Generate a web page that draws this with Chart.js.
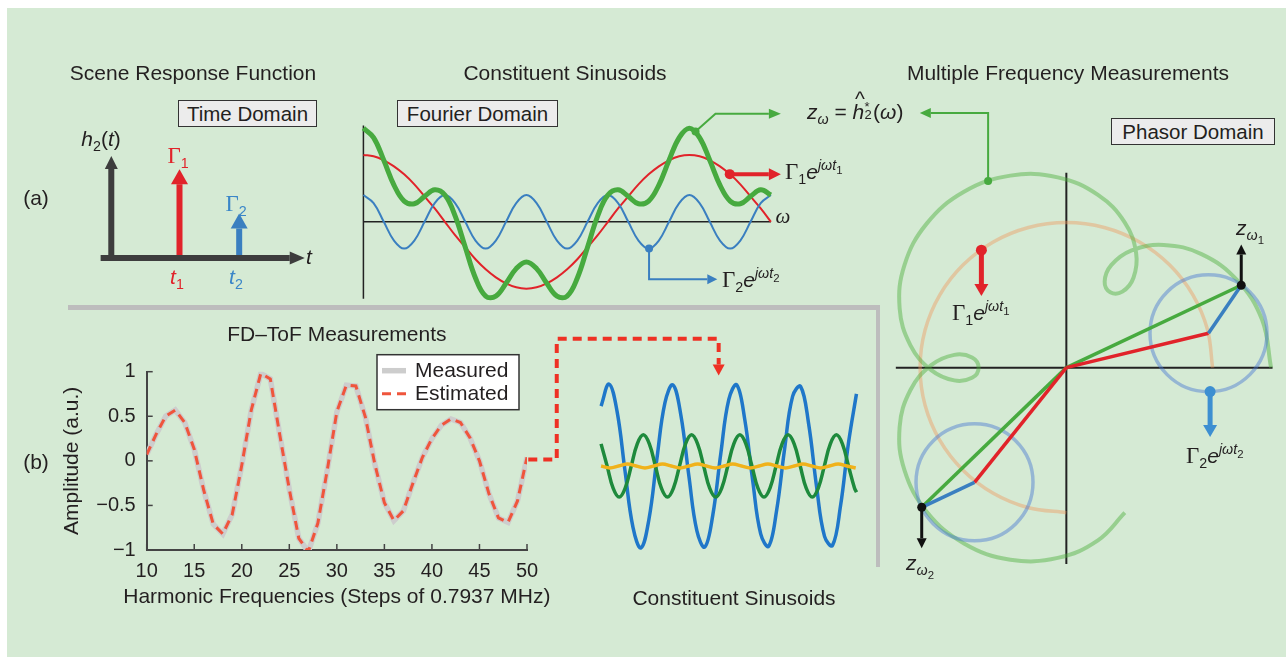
<!DOCTYPE html>
<html>
<head>
<meta charset="utf-8">
<script src="https://cdn.jsdelivr.net/npm/chart.js@4.4.1/dist/chart.umd.min.js"></script>
<style>
body { margin: 0; width: 1286px; height: 657px; position: relative; overflow: hidden; background: #fff;
       font-family: "Liberation Sans", Arial, Helvetica, sans-serif; color: #231f20; }
#bg { position: absolute; left: 7px; top: 8px; right: 0; bottom: 0; background: #d5ead4; }
canvas { position: absolute; }
.lbl { position: absolute; white-space: nowrap; font-size: 21px; line-height: 1; transform: translate(-50%, -50%); }
.lft { transform: translate(0, -50%); }
.box { position: absolute; box-sizing: border-box; background: #ececec; border: 1.5px solid #333; font-size: 20.5px;
       display: flex; align-items: center; justify-content: center; }
.g { font-family: "Liberation Serif", "DejaVu Serif", serif; font-size: 23px; }
.i { font-style: italic; }
.sb { font-size: 0.68em; position: relative; top: 0.35em; font-family: "Liberation Sans", Arial, sans-serif; }
.sp { font-size: 0.68em; position: relative; top: -0.6em; }
.sp .sb { font-size: 0.8em; top: 0.3em; }
.rule { position: absolute; background: #bdbdbd; }
.stk { display: inline-block; position: relative; width: 0.42em; height: 1em; vertical-align: top; }
.stk span { position: absolute; left: 0.02em; font-size: 0.62em; line-height: 1; }
</style>
</head>
<body>
<div id="bg"></div>
<div class="rule" style="left:68px;top:305px;width:812px;height:5px"></div>
<div class="rule" style="left:876px;top:305px;width:4px;height:262px"></div>

<canvas id="fdtof" width="570" height="302" style="left:0;top:318px"></canvas>
<canvas id="sketch" width="1286" height="657" style="left:0;top:0"></canvas>

<div class="lbl" style="left:193px;top:72px">Scene Response Function</div>
<div class="lbl" style="left:565px;top:72px">Constituent Sinusoids</div>
<div class="lbl" style="left:1068px;top:72px">Multiple Frequency Measurements</div>
<div class="box" style="left:178px;top:100px;width:139px;height:27px">Time Domain</div>
<div class="box" style="left:397px;top:100px;width:161px;height:27px">Fourier Domain</div>
<div class="box" style="left:1111px;top:118px;width:164px;height:27px">Phasor Domain</div>
<div class="lbl" style="left:36px;top:197px">(a)</div>
<div class="lbl" style="left:36px;top:461px">(b)</div>

<div class="lbl" style="left:101px;top:138px"><span class="i">h</span><span class="sb">2</span>(<span class="i">t</span>)</div>
<div class="lbl" style="left:178px;top:155px;color:#e1232a"><span class="g">Γ</span><span class="sb">1</span></div>
<div class="lbl" style="left:236px;top:203px;color:#3a86c8"><span class="g">Γ</span><span class="sb">2</span></div>
<div class="lbl i" style="left:177px;top:276px;color:#e1232a">t<span class="sb" style="font-style:normal">1</span></div>
<div class="lbl i" style="left:236px;top:276px;color:#3a86c8">t<span class="sb" style="font-style:normal">2</span></div>
<div class="lbl i" style="left:309px;top:256px">t</div>

<div class="lbl g i" style="left:783px;top:216px;font-size:21px">ω</div>
<div class="lbl lft" style="left:785px;top:171px"><span class="g">Γ</span><span class="sb">1</span><span class="i">e</span><span class="sp i">jω<span>t</span><span class="sb" style="font-style:normal">1</span></span></div>
<div class="lbl lft" style="left:722px;top:279px"><span class="g">Γ</span><span class="sb">2</span><span class="i">e</span><span class="sp i">jω<span>t</span><span class="sb" style="font-style:normal">2</span></span></div>
<div class="lbl lft" style="left:807px;top:111px"><span class="i">z</span><span class="sb i">ω</span> = <span style="position:relative;display:inline-block"><span class="i">h</span><span style="position:absolute;left:0.12em;top:-0.62em">^</span></span><span class="stk"><span style="top:-0.05em">*</span><span style="top:0.5em">2</span></span>(<span class="i">ω</span>)</div>

<div class="lbl lft" style="left:1236px;top:227px"><span class="i">z</span><span class="sb i">ω<span class="sb" style="font-style:normal;font-size:0.8em">1</span></span></div>
<div class="lbl lft" style="left:906px;top:562px"><span class="i">z</span><span class="sb i">ω<span class="sb" style="font-style:normal;font-size:0.8em">2</span></span></div>
<div class="lbl lft" style="left:952px;top:312px"><span class="g">Γ</span><span class="sb">1</span><span class="i">e</span><span class="sp i">jω<span>t</span><span class="sb" style="font-style:normal">1</span></span></div>
<div class="lbl lft" style="left:1186px;top:455px"><span class="g">Γ</span><span class="sb">2</span><span class="i">e</span><span class="sp i">jω<span>t</span><span class="sb" style="font-style:normal">2</span></span></div>

<div class="lbl" style="left:734px;top:597px">Constituent Sinusoids</div>

<script>
// FD-ToF measurements, panel (b)
const harmonics = [10, 11, 12, 13, 14, 15, 16, 17, 18, 19, 20, 21, 22, 23, 24, 25, 26, 27, 28, 29, 30,
                   31, 32, 33, 34, 35, 36, 37, 38, 39, 40, 41, 42, 43, 44, 45, 46, 47, 48, 49, 50];
const measured = [0.07, 0.30, 0.50, 0.57, 0.43, 0.13, -0.33, -0.71, -0.82, -0.60, -0.05, 0.57, 0.98, 0.92,
                  0.29, -0.32, -0.87, -1.02, -0.70, -0.10, 0.55, 0.85, 0.84, 0.49, -0.04, -0.47, -0.67,
                  -0.56, -0.25, 0.04, 0.25, 0.40, 0.47, 0.43, 0.26, 0.00, -0.37, -0.64, -0.69, -0.45, 0.04];
const estimated = [0.07, 0.30, 0.50, 0.57, 0.43, 0.13, -0.33, -0.71, -0.82, -0.60, -0.05, 0.57, 0.98, 0.92,
                   0.29, -0.32, -0.87, -1.02, -0.70, -0.10, 0.55, 0.85, 0.84, 0.49, -0.04, -0.47, -0.67,
                   -0.56, -0.25, 0.04, 0.25, 0.40, 0.47, 0.43, 0.26, 0.00, -0.37, -0.64, -0.69, -0.45, 0.04];
const yTickLabels = ['−1', '−0.5', '0', '0.5', '1'];
const xTitle = 'Harmonic Frequencies (Steps of 0.7937 MHz)';

// scene response function, panel (a) left
const stemTimes = [0.8, 1.5];
const stemAmps = [1, 0.4];

// Fourier domain sinusoids
const fourierOmega = [0, 2.5, 5, 7.5, 10, 12.5, 15, 17.5, 20, 22.5, 25, 27.5, 30, 32.5, 35, 37.5, 40, 42.5, 45, 47.5,
                      50, 52.5, 55, 57.5, 60, 62.5, 65, 67.5, 70, 72.5, 75, 77.5, 80, 82.5, 85, 87.5, 90, 92.5, 95, 97.5, 100];
const fourierRed = [1, 0.98, 0.92, 0.83, 0.71, 0.56, 0.38, 0.2, 0, -0.2, -0.38, -0.56, -0.71, -0.83, -0.92, -0.98, -1,
                    -0.98, -0.92, -0.83, -0.71, -0.56, -0.38, -0.2, 0, 0.2, 0.38, 0.56, 0.71, 0.83, 0.92, 0.98, 1,
                    0.98, 0.92, 0.83, 0.71, 0.56, 0.38, 0.2, 0];
const fourierBlue = [0.4, 0.28, 0, -0.28, -0.4, -0.28, 0, 0.28, 0.4, 0.28, 0, -0.28, -0.4, -0.28, 0, 0.28, 0.4,
                     0.28, 0, -0.28, -0.4, -0.28, 0, 0.28, 0.4, 0.28, 0, -0.28, -0.4, -0.28, 0, 0.28, 0.4,
                     0.28, 0, -0.28, -0.4, -0.28, 0, 0.28, 0.4];
const fourierGreen = [1.4, 1.26, 0.92, 0.55, 0.31, 0.27, 0.38, 0.48, 0.4, 0.09, -0.38, -0.84, -1.11, -1.11, -0.92,
                      -0.7, -0.6, -0.7, -0.92, -1.11, -1.11, -0.84, -0.38, 0.09, 0.4, 0.48, 0.38, 0.27, 0.31, 0.55,
                      0.92, 1.26, 1.4, 1.26, 0.92, 0.55, 0.31, 0.27, 0.38, 0.48, 0.4];

// phasor domain
const orangeArc = [[1, 0], [0.966, 0.259], [0.866, 0.5], [0.707, 0.707], [0.5, 0.866], [0.259, 0.966], [0, 1],
                   [-0.259, 0.966], [-0.5, 0.866], [-0.707, 0.707], [-0.866, 0.5], [-0.966, 0.259], [-1, 0],
                   [-0.966, -0.259], [-0.866, -0.5], [-0.707, -0.707], [-0.5, -0.866], [-0.259, -0.966], [0, -1]];
const greenLocus = [[1.4, 0], [1.338, 0.331], [1.166, 0.605], [0.924, 0.783], [0.666, 0.846], [0.447, 0.809],
                    [0.307, 0.707], [0.262, 0.593], [0.3, 0.52], [0.383, 0.524], [0.459, 0.62], [0.477, 0.791],
                    [0.4, 1], [0.216, 1.191], [-0.059, 1.312], [-0.383, 1.324], [-0.7, 1.212], [-0.955, 0.993],
                    [-1.107, 0.707], [-1.14, 0.409], [-1.066, 0.154], [-0.924, -0.017], [-0.766, -0.088],
                    [-0.645, -0.07], [-0.6, 0], [-0.645, 0.07], [-0.766, 0.088], [-0.924, 0.017], [-1.066, -0.154],
                    [-1.14, -0.409], [-1.107, -0.707], [-0.955, -0.993], [-0.7, -1.212], [-0.383, -1.324],
                    [-0.059, -1.312], [0.216, -1.191], [0.4, -1]];
const redTips = [[0.972, 0.237], [-0.628, -0.791]];
const zTips = [[1.196, 0.568], [-0.989, -0.963]];
const blueRadius = 0.4;

// constituent sinusoids, panel (b) right
const sinBlueT = [0, 0.125, 0.25, 0.375, 0.5, 0.625, 0.75, 0.875, 1, 1.125, 1.25, 1.375, 1.5, 1.625, 1.75, 1.875, 2,
                  2.125, 2.25, 2.375, 2.5, 2.625, 2.75, 2.875, 3, 3.125, 3.25, 3.375, 3.5, 3.625, 3.75, 3.875, 4];
const sinBlue = [0.73, 1.0, 0.67, -0.06, -0.75, -1.0, -0.65, 0.09, 0.77, 0.99, 0.62, -0.12, -0.79, -0.99, -0.6, 0.15,
                 0.81, 0.99, 0.57, -0.18, -0.83, -0.98, -0.54, 0.21, 0.85, 0.97, 0.52, -0.25, -0.86, -0.97, -0.49, 0.28, 0.88];
const sinGreenT = [0, 0.095, 0.189, 0.284, 0.378, 0.473, 0.567, 0.662, 0.756, 0.851, 0.945, 1.04, 1.134, 1.229, 1.323,
                   1.418, 1.512, 1.607, 1.701, 1.796, 1.89, 1.985, 2.079, 2.174, 2.268, 2.363, 2.457, 2.552, 2.646,
                   2.741, 2.835, 2.93, 3.024, 3.119, 3.213, 3.308, 3.402, 3.497, 3.591, 3.686, 3.78, 3.875, 3.969, 4];
const sinGreen = [0.27, 0, -0.27, -0.38, -0.27, 0, 0.27, 0.38, 0.27, 0, -0.27, -0.38, -0.27, 0, 0.27, 0.38,
                  0.27, 0, -0.27, -0.38, -0.27, 0, 0.27, 0.38, 0.27, 0, -0.27, -0.38, -0.27, 0, 0.27, 0.38,
                  0.27, 0, -0.27, -0.38, -0.27, 0, 0.27, 0.38, 0.27, 0, -0.27, -0.32];
const sinYellowT = [0, 0.138, 0.275, 0.413, 0.55, 0.688, 0.825, 0.963, 1.1, 1.238, 1.375, 1.513, 1.65, 1.788, 1.925,
                    2.063, 2.2, 2.338, 2.475, 2.613, 2.75, 2.888, 3.025, 3.163, 3.3, 3.438, 3.575, 3.713, 3.85, 3.988];
const sinYellow = [0, -0.024, 0, 0.024, 0, -0.024, 0, 0.024, 0, -0.024, 0, 0.024, 0, -0.024, 0, 0.024,
                   0, -0.024, 0, 0.024, 0, -0.024, 0, 0.024, 0, -0.024, 0, 0.024, 0, -0.024];

Chart.defaults.font.family = '"Liberation Sans", Arial, Helvetica, sans-serif';
Chart.defaults.color = '#231f20';

const zip = (xs, ys) => xs.map((x, i) => ({ x: x, y: ys[i] }));
const pts = list => list.map(p => ({ x: p[0], y: p[1] }));

// ---------- FD-ToF plot ----------
// MATLAB style ticks pointing into the plot, plus an x title wider than the axis
const insideTicks = {
  id: 'insideTicks',
  afterDraw(chart) {
    const { ctx, chartArea } = chart;
    const xs = chart.scales.x, ys = chart.scales.y;
    ctx.save();
    ctx.strokeStyle = '#444';
    ctx.lineWidth = 1.5;
    xs.ticks.forEach((t, i) => {
      const px = xs.getPixelForTick(i);
      ctx.beginPath(); ctx.moveTo(px, ys.bottom); ctx.lineTo(px, ys.bottom - 6); ctx.stroke();
    });
    ys.ticks.forEach((t, i) => {
      const py = ys.getPixelForTick(i);
      ctx.beginPath(); ctx.moveTo(xs.left, py); ctx.lineTo(xs.left + 6, py); ctx.stroke();
    });
    ctx.fillStyle = '#231f20';
    ctx.font = '21px "Liberation Sans", Arial, sans-serif';
    ctx.textAlign = 'center';
    ctx.textBaseline = 'middle';
    ctx.fillText(xTitle, (chartArea.left + chartArea.right) / 2, chartArea.bottom + 47);
    ctx.restore();
  }
};

const legendBox = {
  id: 'legendBox',
  afterDraw(chart) {
    const { ctx, chartArea } = chart;
    const w = 142, h = 55;
    const x0 = chartArea.right - 8 - w, y0 = chartArea.top - 17;
    ctx.save();
    ctx.fillStyle = '#ffffff';
    ctx.fillRect(x0, y0, w, h);
    ctx.strokeStyle = '#333';
    ctx.lineWidth = 1.5;
    ctx.strokeRect(x0, y0, w, h);
    chart.data.datasets.forEach((ds, i) => {
      const y = y0 + 16 + i * 23;
      ctx.strokeStyle = ds.borderColor;
      ctx.lineWidth = ds.borderWidth;
      ctx.setLineDash(ds.borderDash || []);
      ctx.beginPath(); ctx.moveTo(x0 + 5, y); ctx.lineTo(x0 + 29, y); ctx.stroke();
      ctx.setLineDash([]);
      ctx.fillStyle = '#231f20';
      ctx.font = '21px "Liberation Sans", Arial, sans-serif';
      ctx.textBaseline = 'middle';
      ctx.fillText(ds.label, x0 + 38, y + 1);
    });
    ctx.restore();
  }
};

new Chart(document.getElementById('fdtof'), {
  type: 'line',
  data: {
    datasets: [
      { label: 'Measured', data: zip(harmonics, measured), borderColor: '#cdcdcd', borderWidth: 5.5,
        pointRadius: 0, tension: 0, order: 2 },
      { label: 'Estimated', data: zip(harmonics, estimated), borderColor: '#ef553c', borderWidth: 3,
        borderDash: [9, 6], pointRadius: 0, tension: 0, order: 1 }
    ]
  },
  options: {
    responsive: false,
    animation: false,
    events: [],
    layout: { padding: { left: 0, right: 43, top: 0, bottom: 0 } },
    plugins: {
      legend: { display: false },
      tooltip: { enabled: false },
      title: { display: true, text: 'FD–ToF Measurements', fullSize: false, color: '#231f20',
               font: { size: 21, weight: 'normal' }, padding: { top: 4.4, bottom: 24.1 } }
    },
    scales: {
      x: {
        type: 'linear', min: 10, max: 50,
        ticks: { stepSize: 5, autoSkip: false, maxRotation: 0, padding: 9.7, font: { size: 20 }, color: '#231f20' },
        grid: { display: true, drawOnChartArea: false, drawTicks: false },
        border: { color: '#444', width: 2 },
        afterFit: s => { s.height = 70; }
      },
      y: {
        type: 'linear', min: -1, max: 1,
        ticks: { stepSize: 0.5, padding: 11, font: { size: 20 }, color: '#231f20',
                 callback: (v, i) => yTickLabels[i] },
        grid: { display: true, drawOnChartArea: false, drawTicks: false },
        border: { color: '#444', width: 2 },
        title: { display: true, text: 'Amplitude (a.u.)', color: '#231f20',
                 font: { size: 21 }, padding: { top: 60.1, bottom: 0 } },
        afterFit: s => { s.width = 146.7; }
      }
    }
  },
  plugins: [insideTicks, legendBox]
});

// ---------- sketch panels on one full-page chart ----------
const W = 1286, H = 657;
function panel(id, ox, oy, sx, sy) {
  const s = {};
  s['x' + id] = { type: 'linear', display: false, min: -ox / sx, max: (W - ox) / sx };
  s['y' + id] = { type: 'linear', display: false, min: -(H - oy) / sy, max: oy / sy };
  return s;
}

function line(data, id, color, width, extra) {
  return Object.assign({
    data: data, xAxisID: 'x' + id, yAxisID: 'y' + id,
    borderColor: color, backgroundColor: color, borderWidth: width,
    pointRadius: 0, pointBorderWidth: 0, tension: 0, fill: false,
    borderCapStyle: 'butt', borderJoinStyle: 'miter'
  }, extra || {});
}

const arrowHeads = {
  id: 'arrowHeads',
  afterDatasetsDraw(chart) {
    const ctx = chart.ctx;
    chart.data.datasets.forEach((ds, i) => {
      if (!ds.arrow) return;
      const p = chart.getDatasetMeta(i).data;
      const a = p[p.length - 2], b = p[p.length - 1];
      const ang = Math.atan2(b.y - a.y, b.x - a.x);
      ctx.save();
      ctx.fillStyle = ds.arrowColor || ds.borderColor;
      ctx.translate(b.x, b.y);
      ctx.rotate(ang);
      ctx.beginPath();
      ctx.moveTo(ds.arrow[0], 0);
      ctx.lineTo(0, -ds.arrow[1] / 2);
      ctx.lineTo(0, ds.arrow[1] / 2);
      ctx.closePath();
      ctx.fill();
      ctx.restore();
    });
  }
};

const RED = '#e1232a', BLUE = '#3a7fc0', GREEN = '#47aa3f', DARK = '#3d3d3d';
const layers = [];

// phasor domain
layers.push(line(pts([[-1.166, 0], [1.41, 0]]), 'P', '#222', 2));
layers.push(line(pts([[0, 1.344], [0, -1.354]]), 'P', '#222', 2));
layers.push(line(pts(orangeArc), 'P', 'rgba(240,150,90,0.42)', 3.5, { tension: 0.34 }));
layers.push(line(pts(greenLocus), 'P', 'rgba(76,175,60,0.45)', 4, { tension: 0.4 }));
layers.push(line(pts(redTips), 'P', 'rgba(70,120,210,0.45)', 3.5, {
  showLine: false, backgroundColor: 'rgba(0,0,0,0)', pointBorderWidth: 3.5,
  pointBorderColor: 'rgba(70,120,210,0.45)', pointBackgroundColor: 'rgba(0,0,0,0)',
  pointRadius: c => Math.abs(c.chart.scales.xP.getPixelForValue(blueRadius) - c.chart.scales.xP.getPixelForValue(0))
}));
zTips.forEach(z => layers.push(line(pts([[0, 0], z]), 'P', GREEN, 3.5)));
redTips.forEach(r => layers.push(line(pts([[0, 0], r]), 'P', RED, 3.5)));
redTips.forEach((r, i) => layers.push(line(pts([r, zTips[i]]), 'P', BLUE, 3.5)));
layers.push(line(pts([zTips[0], [zTips[0][0], 0.78]]), 'P', '#111', 3, { arrow: [10, 10], pointRadius: [4.5, 0] }));
layers.push(line(pts([zTips[1], [zTips[1][0], -1.176]]), 'P', '#111', 3, { arrow: [10, 10], pointRadius: [4.5, 0] }));
layers.push(line(pts([[-0.581, 0.81], [-0.581, 0.576]]), 'P', RED, 5, { arrow: [12, 14], pointRadius: [5.5, 0] }));
layers.push(line(pts([[0.983, -0.165], [0.983, -0.396]]), 'P', '#3d8fd1', 5, { arrow: [12, 14], pointRadius: [5.5, 0] }));
layers.push(line(pts([[-0.535, 1.287], [-0.535, 1.756], [-0.927, 1.756]]), 'P', GREEN, 2,
  { arrow: [11, 10], pointRadius: [4, 0, 0] }));

// Fourier domain
layers.push(line(pts([[0, -1.15], [0, 1.44]]), 'F', '#222', 1.5));
layers.push(line(pts([[0, 0], [100, 0]]), 'F', '#222', 1.5));
layers.push(line(zip(fourierOmega, fourierRed), 'F', RED, 2, { tension: 0.4 }));
layers.push(line(zip(fourierOmega, fourierBlue), 'F', BLUE, 2, { tension: 0.4 }));
layers.push(line(zip(fourierOmega, fourierGreen), 'F', GREEN, 5, { tension: 0.4 }));
layers.push(line(pts([[81.5, 1.35], [86.4, 1.618], [99.5, 1.618]]), 'F', GREEN, 2, { arrow: [12, 10], pointRadius: [4, 0, 0] }));
layers.push(line(pts([[89.9, 0.713], [99.5, 0.713]]), 'F', RED, 4, { arrow: [12, 12], pointRadius: [5, 0] }));
layers.push(line(pts([[70.1, -0.4], [70.1, -0.86], [84.4, -0.86]]), 'F', BLUE, 2, { arrow: [10, 10], pointRadius: [4, 0, 0] }));

// time domain
stemTimes.forEach((t, i) => layers.push(line(pts([[t, 0], [t, stemAmps[i]]]), 'T', i === 0 ? RED : BLUE, 6,
  { arrow: [15, 17] })));
layers.push(line(pts([[0, 0], [0, 1.205]]), 'T', DARK, 6, { arrow: [13, 13] }));
layers.push(line(pts([[-0.125, 0], [2.093, 0]]), 'T', DARK, 6, { arrow: [15, 13] }));

// constituent sinusoids (b)
layers.push(line(zip(sinBlueT, sinBlue), 'S', '#1f77c9', 3.5, { tension: 0.4 }));
layers.push(line(zip(sinGreenT, sinGreen), 'S', '#1e8a3c', 3.5, { tension: 0.4 }));
layers.push(line(zip(sinYellowT, sinYellow), 'S', '#f0b21a', 3.5, { tension: 0.4 }));
layers.push(line(pts([[-1.14, 0.08], [-0.694, 0.08], [-0.694, 1.552], [1.842, 1.552], [1.842, 1.24]]), 'S', '#ee3124', 4,
  { borderDash: [9, 6], arrow: [11, 12] }));

// later layers on top
layers.forEach((d, i) => { d.order = layers.length - i; });

new Chart(document.getElementById('sketch'), {
  type: 'line',
  data: { datasets: layers },
  options: {
    responsive: false,
    animation: false,
    events: [],
    layout: { padding: 0 },
    plugins: { legend: { display: false }, tooltip: { enabled: false } },
    scales: Object.assign({},
      panel('T', 106.7, 256.7, 86, 75),
      panel('F', 361, 220, 4.11, 68),
      panel('P', 1070, 368.3, 147.5, 147.5),
      panel('S', 600.7, 468.3, 64.4, 83.3))
  },
  plugins: [arrowHeads]
});
</script>
</body>
</html>
